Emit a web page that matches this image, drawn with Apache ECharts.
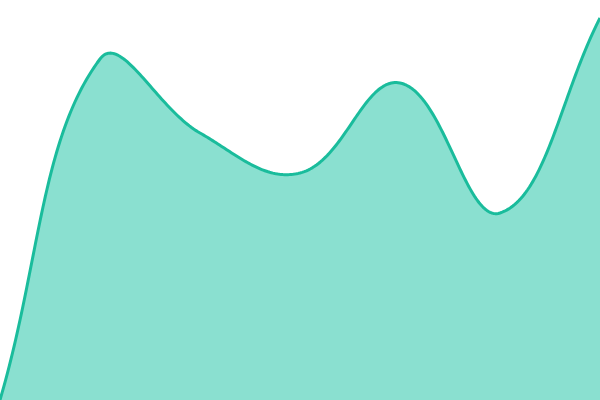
<!DOCTYPE html>
<html><head><meta charset="utf-8">
<script src="https://cdn.jsdelivr.net/npm/echarts@6/dist/echarts.min.js"></script>
<style>html,body{margin:0;padding:0;background:#fff}#c{width:600px;height:400px}</style>
</head><body><div id="c"></div>
<script>
const categories = ['A','B','C','D','E','F','G'];
const values = [0, 341, 267, 227, 317, 187, 382];
const TENSION = 0.4;

function splinePoints(api) {
  const pts = values.map((v, i) => api.coord([i, v]));
  const n = pts.length;
  const cps = pts.map((cur, i) => {
    const prev = pts[i - 1] || cur, next = pts[i + 1] || cur;
    const d01 = Math.hypot(cur[0] - prev[0], cur[1] - prev[1]);
    const d12 = Math.hypot(next[0] - cur[0], next[1] - cur[1]);
    let s01 = d01 / (d01 + d12), s12 = d12 / (d01 + d12);
    if (!isFinite(s01)) s01 = 0; if (!isFinite(s12)) s12 = 0;
    const fa = TENSION * s01, fb = TENSION * s12;
    const dx = next[0] - prev[0], dy = next[1] - prev[1];
    return {
      p: [cur[0] - fa * dx, cur[1] - fa * dy],
      n: [cur[0] + fb * dx, cur[1] + fb * dy]
    };
  });
  const out = [pts[0]];
  const steps = 60;
  for (let i = 1; i < n; i++) {
    const a = pts[i - 1], b = pts[i], c1 = cps[i - 1].n, c2 = cps[i].p;
    for (let s = 1; s <= steps; s++) {
      const t = s / steps, u = 1 - t;
      const x = u*u*u*a[0] + 3*u*u*t*c1[0] + 3*u*t*t*c2[0] + t*t*t*b[0];
      const y = u*u*u*a[1] + 3*u*u*t*c1[1] + 3*u*t*t*c2[1] + t*t*t*b[1];
      out.push([x, y]);
    }
  }
  return out;
}

const chart = echarts.init(document.getElementById('c'));
chart.setOption({
  animation: false,
  grid: {left: 0, right: 0, top: 0, bottom: 0},
  xAxis: {type: 'category', data: categories, boundaryGap: false, show: false},
  yAxis: {type: 'value', min: 0, max: 400, show: false},
  series: [{
    type: 'custom',
    data: values.map((v, i) => [i, v]),
    encode: {x: 0, y: 1},
    clip: true,
    renderItem: function (params, api) {
      if (params.dataIndex !== 0) return null;
      const line = splinePoints(api);
      const base = api.coord([0, 0])[1];
      const area = line.concat([[line[line.length - 1][0], base], [line[0][0], base]]);
      return {
        type: 'group',
        children: [
          {type: 'polygon', shape: {points: area}, style: {fill: '#8ae0d0', stroke: null}},
          {type: 'polyline', shape: {points: line}, style: {stroke: '#1abc9c', lineWidth: 3, fill: null, lineJoin: 'round'}}
        ]
      };
    }
  }]
});
</script></body></html>
